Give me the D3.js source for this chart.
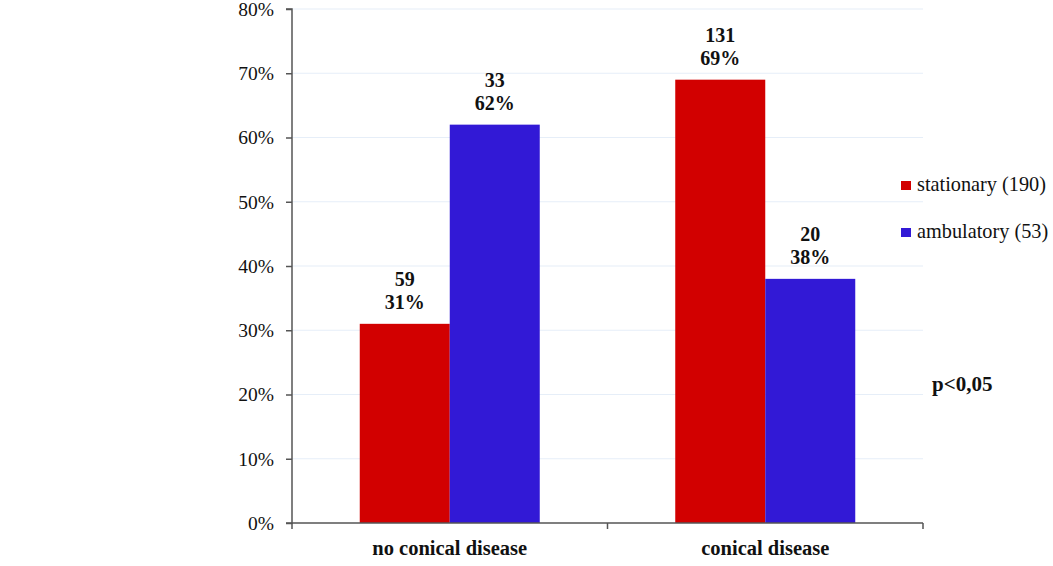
<!DOCTYPE html>
<html>
<head>
<meta charset="utf-8">
<script src="https://cdn.jsdelivr.net/npm/d3@7"></script>
<style>
  html, body { margin: 0; padding: 0; background: #fff; }
  svg { display: block; }
  svg text { font-family: "Liberation Serif", "DejaVu Serif", serif; }
</style>
</head>
<body>
<svg id="chart" width="1053" height="566"></svg>
<script>
// Share of patients by group, with counts shown above each bar
const categories = ["no conical disease", "conical disease"];
const seriesNames = ["stationary (190)", "ambulatory (53)"];
const stationaryPct = [31, 69];
const ambulatoryPct = [62, 38];
const stationaryCount = [59, 131];
const ambulatoryCount = [33, 20];
const yTicks = [0, 10, 20, 30, 40, 50, 60, 70, 80];
const note = "p<0,05";

const colors = ["#d20000", "#3219d6"];
const serif = "'Liberation Serif', 'DejaVu Serif', serif";

const svg = d3.select("#chart");
const plotLeft = 292, plotRight = 923, plotTop = 9, plotBottom = 523;

const x = d3.scaleBand().domain(categories).range([plotLeft, plotRight]).paddingInner(0).paddingOuter(0);
const inner = d3.scaleBand().domain([0, 1]).range([0, 180]);
const groupOffset = (x.bandwidth() - 180) / 2;
const y = d3.scaleLinear().domain([0, 80]).range([plotBottom, plotTop]);

// gridlines
svg.append("g").selectAll("line").data(yTicks.filter(t => t > 0)).join("line")
  .attr("x1", plotLeft).attr("x2", plotRight)
  .attr("y1", d => y(d)).attr("y2", d => y(d))
  .attr("stroke", "#e6eef8").attr("stroke-width", 1.2);

// bars
const series = [
  { pct: stationaryPct, count: stationaryCount },
  { pct: ambulatoryPct, count: ambulatoryCount }
];
series.forEach((s, si) => {
  const g = svg.append("g");
  g.selectAll("rect").data(categories).join("rect")
    .attr("x", c => x(c) + groupOffset + inner(si))
    .attr("width", inner.bandwidth())
    .attr("y", (c, i) => y(s.pct[i]))
    .attr("height", (c, i) => plotBottom - y(s.pct[i]))
    .attr("fill", colors[si]);
  const lbl = g.selectAll("text").data(categories).join("text")
    .attr("text-anchor", "middle")
    .attr("font-family", serif)
    .attr("font-weight", "bold")
    .attr("font-size", 20)
    .attr("fill", "#111");
  lbl.append("tspan")
    .attr("x", c => x(c) + groupOffset + inner(si) + inner.bandwidth() / 2)
    .attr("y", (c, i) => y(s.pct[i]) - 38)
    .text((c, i) => s.count[i]);
  lbl.append("tspan")
    .attr("x", c => x(c) + groupOffset + inner(si) + inner.bandwidth() / 2)
    .attr("y", (c, i) => y(s.pct[i]) - 15)
    .text((c, i) => s.pct[i] + "%");
});

// y axis
const yAxis = d3.axisLeft(y).tickValues(yTicks).tickFormat(d => d + "%").tickSize(6).tickPadding(12);
const gy = svg.append("g").attr("transform", `translate(${plotLeft},0)`).call(yAxis)
  .attr("font-family", serif);
gy.select(".domain").attr("stroke", "#555").attr("stroke-width", 1.5).attr("d", `M-6,${plotTop}H0V${plotBottom}H-6`);
gy.selectAll(".tick line").attr("stroke", "#555").attr("stroke-width", 1.5);
gy.selectAll(".tick text").attr("font-size", 19.5).attr("fill", "#111").attr("font-family", serif);

// x axis with ticks at band boundaries
svg.append("line").attr("x1", plotLeft).attr("x2", plotRight).attr("y1", plotBottom).attr("y2", plotBottom)
  .attr("stroke", "#555").attr("stroke-width", 1.5);
const bounds = categories.map(c => x(c)).concat([x(categories[categories.length - 1]) + x.bandwidth()]);
svg.append("g").selectAll("line").data(bounds).join("line")
  .attr("x1", d => d).attr("x2", d => d)
  .attr("y1", plotBottom).attr("y2", plotBottom + 6)
  .attr("stroke", "#555").attr("stroke-width", 1.5);
svg.append("g").selectAll("text").data(categories).join("text")
  .attr("x", c => x(c) + x.bandwidth() / 2)
  .attr("y", 555)
  .attr("text-anchor", "middle")
  .attr("font-family", serif)
  .attr("font-weight", "bold")
  .attr("font-size", 20.5)
  .attr("fill", "#111")
  .text(c => c);

// legend
const legend = svg.append("g").selectAll("g").data(seriesNames).join("g")
  .attr("transform", (d, i) => `translate(901,${181 + i * 47})`);
legend.append("rect").attr("width", 10).attr("height", 9).attr("fill", (d, i) => colors[i]);
legend.append("text").attr("x", 16).attr("y", 10).attr("font-family", serif)
  .attr("font-size", 20.3).attr("fill", "#111").text(d => d);

// significance note
svg.append("text").attr("x", 932).attr("y", 391).attr("font-family", serif)
  .attr("font-weight", "bold").attr("font-size", 21).attr("fill", "#111").text(note);
</script>
</body>
</html>
